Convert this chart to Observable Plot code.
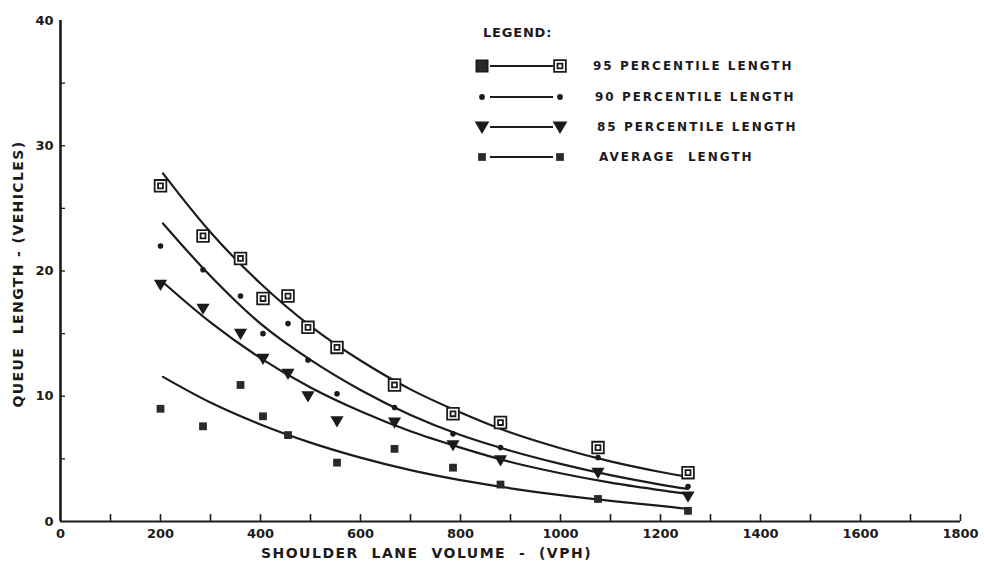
<!DOCTYPE html>
<html>
<head>
<meta charset="utf-8">
<script src="https://cdn.jsdelivr.net/npm/d3@7"></script>
<script src="https://cdn.jsdelivr.net/npm/@observablehq/plot@0.6"></script>
<style>
  html, body { margin: 0; padding: 0; background: #fff; }
  #chart { position: relative; width: 984px; height: 569px; }
  #legend { position: absolute; left: 0; top: 0; pointer-events: none; }
</style>
</head>
<body>
<div id="chart"></div>
<script>
// Shoulder lane volume (vph) at each observation site
const volume = [200, 285, 360, 405, 455, 495, 553, 668, 785, 880, 1075, 1255];

// Observed queue lengths (vehicles)
const p95 = [26.8, 22.8, 21.0, 17.8, 18.0, 15.5, 13.9, 10.9, 8.6, 7.9, 5.9, 3.9];
const p90 = [22.0, 20.1, 18.0, 15.0, 15.8, 12.9, 10.2, 9.1, 7.0, 5.9, 5.1, 2.8];
const p85 = [18.9, 17.0, 15.0, 13.0, 11.8, 10.0, 8.0, 7.9, 6.1, 4.9, 3.9, 2.0];
const avg = [9.0, 7.6, 10.9, 8.4, 6.9, null, 4.7, 5.8, 4.3, 2.95, 1.8, 0.85];

// Fitted curves, read along the volume axis
const curveVolume = [205, 300, 400, 500, 600, 700, 800, 900, 1000, 1100, 1200, 1255];
const fit95 = [27.8, 23.1, 19.0, 15.6, 12.85, 10.55, 8.7, 7.1, 5.85, 4.8, 3.95, 3.55];
const fit90 = [23.8, 19.6, 15.8, 12.9, 10.5, 8.5, 6.9, 5.65, 4.6, 3.7, 2.95, 2.6];
const fit85 = [19.1, 15.9, 13.05, 10.7, 8.8, 7.2, 5.9, 4.75, 3.85, 3.1, 2.5, 2.2];
const fitAvg = [11.55, 9.5, 7.75, 6.3, 5.1, 4.1, 3.3, 2.65, 2.1, 1.65, 1.25, 1.0];

// Axis ticks and labels
const xTickMarks = d3.range(100, 1801, 100);
const yTickMarks = d3.range(5, 40, 5);
const xTickLabels = [0, 200, 400, 600, 800, 1000, 1200, 1400, 1600, 1800];
const yTickLabels = [0, 10, 20, 30, 40];
const xTitle = "SHOULDER  LANE  VOLUME  -  (VPH)";
const yTitle = "QUEUE  LENGTH - (VEHICLES)";
const legendTitle = "LEGEND:";
const legendLabels = ["95 PERCENTILE LENGTH", "90 PERCENTILE LENGTH", "85 PERCENTILE LENGTH", "AVERAGE  LENGTH"];

const ink = "#1b1b1b";
const font = "'DejaVu Sans', 'Liberation Sans', sans-serif";

// Square with an inner square, for the 95th percentile
const boxed = {
  draw(ctx, size) {
    const h = Math.sqrt(size) / 2, i = h * 0.42;
    ctx.moveTo(-h, -h); ctx.lineTo(h, -h); ctx.lineTo(h, h); ctx.lineTo(-h, h); ctx.closePath();
    ctx.moveTo(-i, -i); ctx.lineTo(i, -i); ctx.lineTo(i, i); ctx.lineTo(-i, i); ctx.closePath();
  }
};
// Downward pointing triangle, for the 85th percentile
const triangleDown = {
  draw(ctx, size) {
    const a = Math.sqrt(size) * 0.6;
    ctx.moveTo(-a, -a * 0.75); ctx.lineTo(a, -a * 0.75); ctx.lineTo(0, a * 0.95); ctx.closePath();
  }
};

const rows = (xs, ys) => xs.map((x, i) => ({x, y: ys[i]})).filter(d => d.y != null);

const lineOpts = {x: "x", y: "y", stroke: ink, strokeWidth: 2.2, curve: "catmull-rom"};

const chart = Plot.plot({
  width: 984,
  height: 569,
  marginLeft: 60,
  marginRight: 24,
  marginTop: 20,
  marginBottom: 48,
  x: {domain: [0, 1800]},
  y: {domain: [0, 40]},
  style: {fontFamily: font, fontWeight: "bold", color: ink, background: "white"},
  marks: [
    // inward tick marks
    Plot.ruleX(xTickMarks, {x: d => d, y1: 0, y2: 0.55, stroke: ink, strokeWidth: 1.6}),
    Plot.ruleY(yTickMarks, {y: d => d, x1: 0, x2: 10, stroke: ink, strokeWidth: 1.3}),
    // axis lines
    Plot.ruleY([0], {stroke: ink, strokeWidth: 2}),
    Plot.ruleX([0], {stroke: ink, strokeWidth: 2.6}),
    // tick labels
    Plot.axisX({ticks: xTickLabels, tickSize: 0, tickPadding: 7, fontSize: 13, tickFormat: d => String(d), label: null}),
    Plot.axisY({ticks: yTickLabels, tickSize: 0, tickPadding: 7, fontSize: 13, tickFormat: d => String(d), label: null}),
    // fitted curves
    Plot.line(rows(curveVolume, fit95), lineOpts),
    Plot.line(rows(curveVolume, fit90), lineOpts),
    Plot.line(rows(curveVolume, fit85), lineOpts),
    Plot.line(rows(curveVolume, fitAvg), lineOpts),
    // observations
    Plot.dot(rows(volume, p95), {x: "x", y: "y", symbol: boxed, r: 6.6, fill: "white", stroke: ink, strokeWidth: 1.8}),
    Plot.dot(rows(volume, p90), {x: "x", y: "y", r: 2.8, fill: ink}),
    Plot.dot(rows(volume, p85), {x: "x", y: "y", symbol: triangleDown, r: 6.2, fill: ink}),
    Plot.dot(rows(volume, avg), {x: "x", y: "y", symbol: "square", r: 4.4, fill: "#2a2a2a"}),
    // axis titles
    Plot.text([xTitle], {frameAnchor: "bottom", textAnchor: "middle", dx: -84, dy: 36, fontSize: 14, fill: ink}),
    Plot.text([yTitle], {frameAnchor: "left", textAnchor: "middle", rotate: -90, dx: -42, dy: 3, fontSize: 14, fill: ink})
  ]
});

const root = document.getElementById("chart");
root.appendChild(chart);

// spacing for the stencil-style lettering
d3.select(chart).selectAll("text").each(function() {
  const t = this.textContent;
  if (t === xTitle || t === yTitle) {
    d3.select(this).attr("xml:space", "preserve").style("white-space", "pre")
      .style("letter-spacing", t === xTitle ? "1.5px" : "1.4px");
  }
});

// Legend drawn over the upper right of the plot area
const legend = d3.select(root).append("svg")
  .attr("id", "legend").attr("width", 984).attr("height", 569)
  .style("font-family", font).style("font-weight", "bold").style("fill", ink);

legend.append("text").attr("x", 483).attr("y", 37).attr("font-size", 13)
  .style("letter-spacing", "0.8px").text(legendTitle);

const rowY = [66, 97, 127, 157];
const textX = [593, 595, 597, 599];
const symbolsLeft = [
  {type: d3.symbolSquare, size: 130, fill: "#2a2a2a", stroke: ink},
  {type: d3.symbolCircle, size: 26, fill: ink, stroke: "none"},
  {type: triangleDown, size: 150, fill: ink, stroke: "none"},
  {type: d3.symbolSquare, size: 60, fill: "#2a2a2a", stroke: "none"}
];
const symbolsRight = [
  {type: boxed, size: 137, fill: "white", stroke: ink},
  {type: d3.symbolCircle, size: 26, fill: ink, stroke: "none"},
  {type: triangleDown, size: 150, fill: ink, stroke: "none"},
  {type: d3.symbolSquare, size: 60, fill: "#2a2a2a", stroke: "none"}
];

legendLabels.forEach((label, i) => {
  const g = legend.append("g");
  g.append("line").attr("x1", 490).attr("x2", 553).attr("y1", rowY[i]).attr("y2", rowY[i])
    .attr("stroke", ink).attr("stroke-width", 2.2);
  const l = symbolsLeft[i], r = symbolsRight[i];
  g.append("path").attr("transform", `translate(482,${rowY[i]})`)
    .attr("d", d3.symbol(l.type, l.size)()).attr("fill", l.fill).attr("stroke", l.stroke).attr("stroke-width", 1.6);
  g.append("path").attr("transform", `translate(560,${rowY[i]})`)
    .attr("d", d3.symbol(r.type, r.size)()).attr("fill", r.fill).attr("stroke", r.stroke).attr("stroke-width", 1.8);
  g.append("text").attr("x", textX[i]).attr("y", rowY[i]).attr("dy", "0.36em")
    .attr("font-size", 12).attr("xml:space", "preserve").style("white-space", "pre")
    .style("letter-spacing", "2px").text(label);
});
</script>
</body>
</html>
